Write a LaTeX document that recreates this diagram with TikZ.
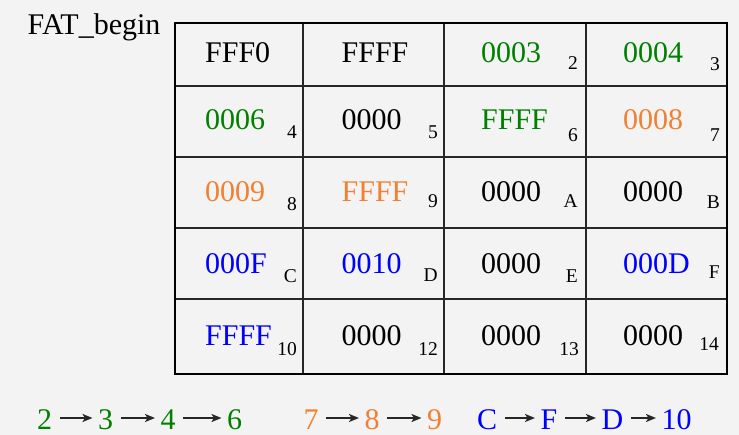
\documentclass[tikz,border=0pt]{standalone}
\usepackage{fontspec}
\setmainfont{Liberation Serif}
\usetikzlibrary{arrows.meta}
\definecolor{bg}{RGB}{243,243,243}
\definecolor{fgreen}{RGB}{0,128,0}
\definecolor{forange}{RGB}{240,128,50}
\definecolor{fblue}{RGB}{0,0,255}
\begin{document}
\begin{tikzpicture}[x=1pt,y=-1pt,
  main/.style={anchor=base west,inner sep=0pt,font=\fontsize{30}{36}\selectfont},
  sub/.style={anchor=base east,inner sep=0pt,font=\fontsize{19.5}{23}\selectfont},
  seq/.style={anchor=base west,inner sep=0pt,text height=20pt,text depth=0pt,font=\fontsize{30}{36}\selectfont},
  arr/.style={-{Stealth[length=10pt,width=8pt,inset=2.5pt]},line width=1.8pt,black!85,shorten <=7.5pt,shorten >=5.5pt},
  gridline/.style={line width=1.3pt,black!85},
  frame/.style={line width=2pt,black}]
\fill[bg] (0,0) rectangle (739,435);
\useasboundingbox (0,0) rectangle (739,435);
% table
\foreach \x in {303,444,586} \draw[gridline] (\x,23) -- (\x,374);
\foreach \y in {86,157,228,299} \draw[gridline] (175,\y) -- (727,\y);
\draw[frame] (175,23) rectangle (727,374);
% label
\node[main] (fat) at (27.5,35) {FAT\_begin};
% cell contents
\foreach \c/\x in {1/205,2/341.5,3/481,4/623}{
  \foreach \r/\y in {1/63,2/130,3/202,4/274,5/346}{
    \coordinate (p\r\c) at (\x,\y);
  }
}
\node[main] (t11) at (p11) {FFF0};
\node[main] (t12) at (p12) {FFFF};
\node[main,text=fgreen] (t13) at (p13) {0003};
\node[main,text=fgreen] (t14) at (p14) {0004};
\node[main,text=fgreen] (t21) at (p21) {0006};
\node[main] (t22) at (p22) {0000};
\node[main,text=fgreen] (t23) at (p23) {FFFF};
\node[main,text=forange] (t24) at (p24) {0008};
\node[main,text=forange] (t31) at (p31) {0009};
\node[main,text=forange] (t32) at (p32) {FFFF};
\node[main] (t33) at (p33) {0000};
\node[main] (t34) at (p34) {0000};
\node[main,text=fblue] (t41) at (p41) {000F};
\node[main,text=fblue] (t42) at (p42) {0010};
\node[main] (t43) at (p43) {0000};
\node[main,text=fblue] (t44) at (p44) {000D};
\node[main,text=fblue] (t51) at (p51) {FFFF};
\node[main] (t52) at (p52) {0000};
\node[main] (t53) at (p53) {0000};
\node[main] (t54) at (p54) {0000};
% cluster numbers
\node[sub] (s13) at (578,70) {2};
\node[sub] (s14) at (720,70.5) {3};
\node[sub] (s21) at (297,139) {4};
\node[sub] (s22) at (438,139) {5};
\node[sub] (s23) at (578,142) {6};
\node[sub] (s24) at (720,142) {7};
\node[sub] (s31) at (297,211) {8};
\node[sub] (s32) at (438,208) {9};
\node[sub] (s33) at (578,208) {A};
\node[sub] (s34) at (720,209) {B};
\node[sub] (s41) at (297,283) {C};
\node[sub] (s42) at (438,282) {D};
\node[sub] (s43) at (578,283) {E};
\node[sub] (s44) at (720,279) {F};
\node[sub] (s51) at (297,356) {10};
\node[sub] (s52) at (438,356) {12};
\node[sub] (s53) at (579,356) {13};
\node[sub] (s54) at (719,351) {14};
% chains
\node[seq,text=fgreen] (g2) at (37,430) {2};
\node[seq,text=fgreen] (g3) at (98,430) {3};
\node[seq,text=fgreen] (g4) at (160.5,430) {4};
\node[seq,text=fgreen] (g6) at (227,430) {6};
\node[seq,text=forange] (o7) at (303.5,430) {7};
\node[seq,text=forange] (o8) at (364.5,430) {8};
\node[seq,text=forange] (o9) at (427,430) {9};
\node[seq,text=fblue] (bC) at (477,430) {C};
\node[seq,text=fblue] (bF) at (540.5,430) {F};
\node[seq,text=fblue] (bD) at (601.5,430) {D};
\node[seq,text=fblue] (b10) at (661.5,430) {10};
\foreach \a/\b in {g2/g3,g3/g4,g4/g6,o7/o8,o8/o9,bC/bF,bF/bD,bD/b10}
  \draw[arr] ([yshift=2pt]\a.east) -- ([yshift=2pt]\b.west);
\end{tikzpicture}
\end{document}
